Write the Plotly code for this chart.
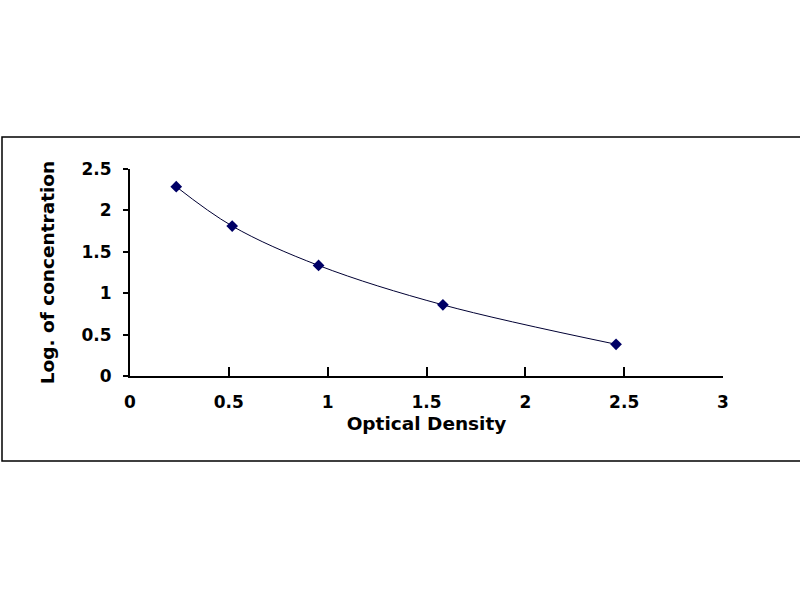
import plotly.graph_objects as go

# standard curve readings
optical_density = [0.234, 0.517, 0.954, 1.583, 2.459]
log_concentration = [2.286, 1.811, 1.335, 0.859, 0.383]

x_ticks = [0, 0.5, 1, 1.5, 2, 2.5, 3]
y_ticks = [0, 0.5, 1, 1.5, 2, 2.5]

W, H = 800, 600
ml, mr, mt, mb = 130, 77, 169, 224
pw, ph = W - ml - mr, H - mt - mb


def px_x(x):
    return (x - ml) / pw


def px_y(y):
    return (H - mb - y) / ph


font = dict(family="DejaVu Sans", color="black", weight="bold")

fig = go.Figure()
fig.add_trace(go.Scatter(
    x=optical_density, y=log_concentration,
    mode="lines+markers",
    line=dict(shape="spline", smoothing=1, color="#000033", width=1),
    marker=dict(symbol="diamond", size=9, color="#000066"),
    showlegend=False,
))

fig.update_layout(
    width=W, height=H,
    margin=dict(l=ml, r=mr, t=mt, b=mb, autoexpand=False),
    paper_bgcolor="white", plot_bgcolor="white",
    font=dict(**font, size=17),
    xaxis=dict(
        range=[0, 3], tickvals=x_ticks, ticktext=[f"{v:g}" for v in x_ticks],
        showgrid=False, zeroline=False,
        showline=True, linecolor="black", linewidth=2,
        ticks="inside", ticklen=9, tickwidth=2, tickcolor="black",
        ticklabelstandoff=10,
        title=dict(text="Optical Density", font=dict(**font, size=18.5), standoff=6),
        automargin=False,
    ),
    yaxis=dict(
        range=[0, 2.5], tickvals=y_ticks, ticktext=[f"{v:g}" for v in y_ticks],
        showgrid=False, zeroline=False,
        showline=True, linecolor="black", linewidth=2,
        ticks="outside", ticklen=5, tickwidth=2, tickcolor="black",
        ticklabelstandoff=8,
        title=dict(text="Log. of concentration", font=dict(**font, size=18.5), standoff=22),
        automargin=False,
    ),
    shapes=[dict(
        type="rect", xref="paper", yref="paper",
        x0=px_x(2), x1=px_x(806), y0=px_y(461), y1=px_y(137),
        line=dict(color="black", width=1.5), fillcolor="rgba(0,0,0,0)",
        layer="below",
    )],
)

# drop the page's default body margin so the figure sits at the window corner
fig.write_html("out.html", config={"displayModeBar": False},
               post_script="document.body.style.margin='0px';")
